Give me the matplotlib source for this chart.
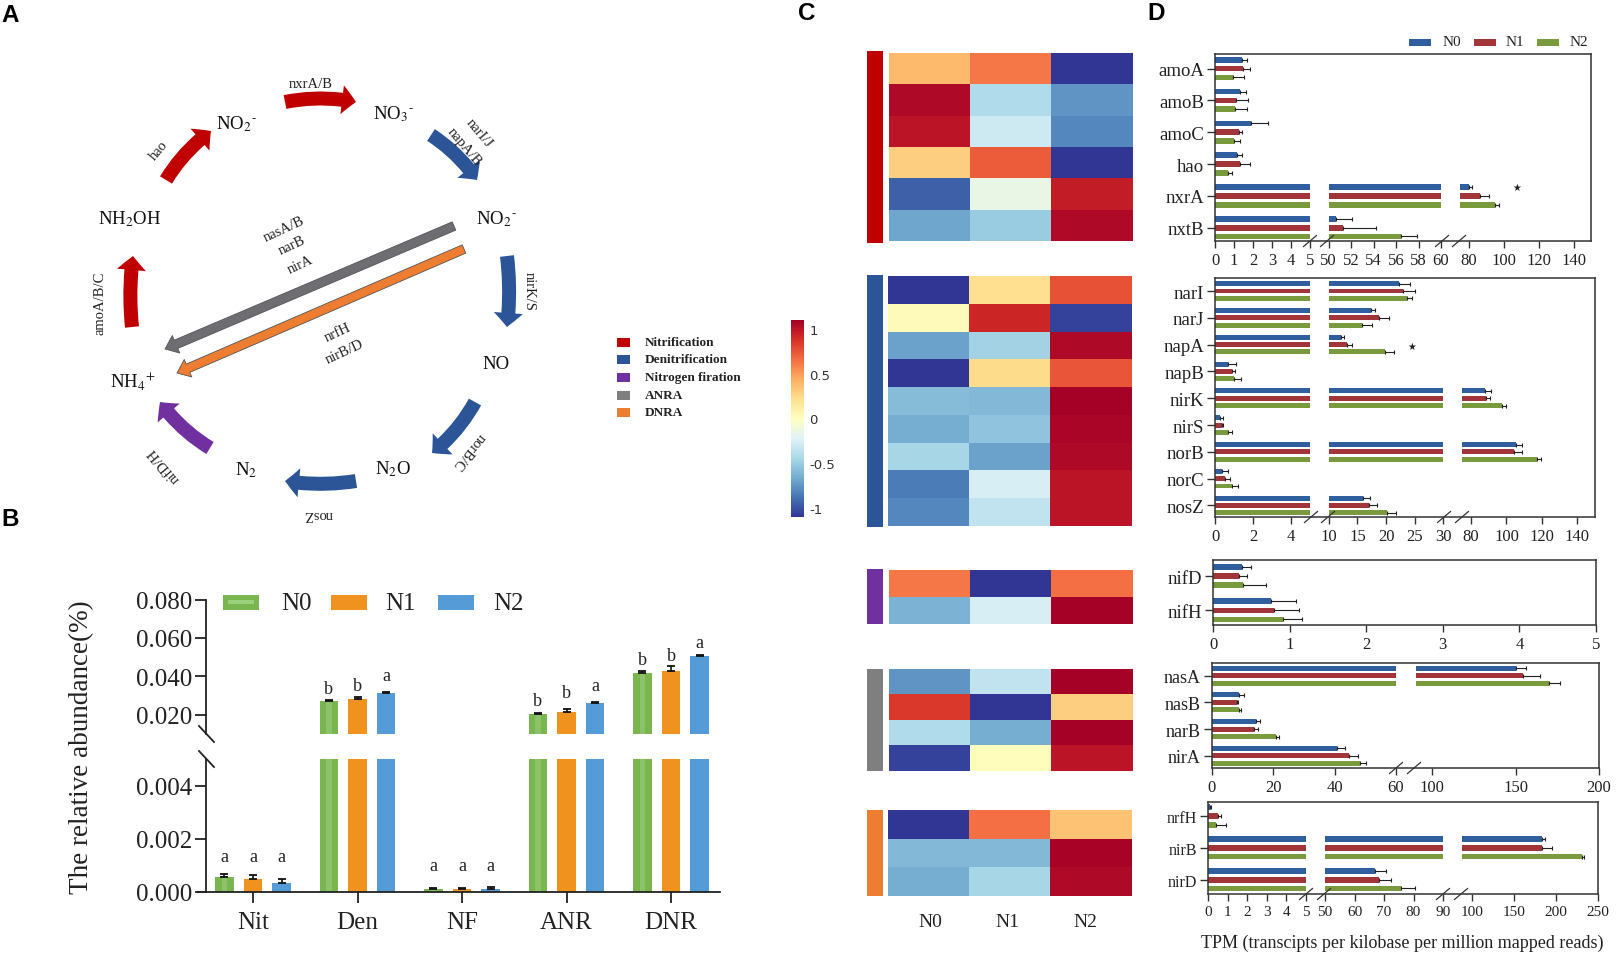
import numpy as np
import matplotlib
matplotlib.use("Agg")
import matplotlib.pyplot as plt
from matplotlib.patches import FancyArrowPatch, Rectangle
from matplotlib.colors import Normalize
from matplotlib.cm import ScalarMappable

W, H = 1621, 962
SERIF = "Liberation Serif"
plt.rcParams["font.family"] = SERIF
plt.rcParams["mathtext.fontset"] = "stix"

# ---------------- Panel B data
b_cats = ["Nit", "Den", "NF", "ANR", "DNR"]
b_n0 = [0.00057, 0.0273, 0.00010, 0.0203, 0.0418]
b_n1 = [0.00050, 0.0282, 0.00010, 0.0215, 0.0428]
b_n2 = [0.00035, 0.0315, 0.00012, 0.0262, 0.0505]
b_n0_err = [0.00012, 0.0005, 0.00005, 0.0005, 0.0012]
b_n1_err = [0.00015, 0.0010, 0.00006, 0.0015, 0.0025]
b_n2_err = [0.00013, 0.0005, 0.00008, 0.0006, 0.0005]
b_letters = [["a", "a", "a"], ["b", "b", "a"], ["a", "a", "a"], ["b", "b", "a"], ["b", "b", "a"]]
b_letter_y = [[0.00132, 0.00132, 0.00132], [0.0335, 0.0355, 0.0402], [0.00098, 0.00098, 0.00098],
              [0.0273, 0.0314, 0.0355], [0.0490, 0.0511, 0.0578]]
b_colors = ["#7ab650", "#f0921e", "#559bd8"]
series = ["N0", "N1", "N2"]

# ---------------- Panel C data
heat_groups = [
    [[0.38, 0.62, -1.15], [1.05, -0.42, -0.75], [1.00, -0.30, -0.80],
     [0.30, 0.72, -1.12], [-0.95, -0.15, 0.97], [-0.68, -0.50, 1.05]],
    [[-1.15, 0.22, 0.75], [0.02, 0.92, -1.05], [-0.70, -0.47, 1.05],
     [-1.12, 0.24, 0.74], [-0.58, -0.60, 1.10], [-0.65, -0.55, 1.07],
     [-0.45, -0.70, 1.05], [-0.85, -0.25, 1.00], [-0.80, -0.35, 1.00]],
    [[0.62, -1.10, 0.65], [-0.62, -0.25, 1.15]],
    [[-0.75, -0.35, 1.13], [0.85, -1.15, 0.30], [-0.42, -0.65, 1.13], [-1.05, 0.01, 1.00]],
    [[-1.15, 0.65, 0.35], [-0.60, -0.60, 1.08], [-0.65, -0.45, 1.05]],
]
heat_spans = [(889, 54, 1132, 242), (888, 277, 1132, 527), (889, 571, 1132, 625),
              (889, 670, 1133, 772), (888, 811, 1132, 897)]
side_spans = [(52, 244), (276, 528), (570, 625), (670, 772), (811, 897)]
path_colors = ["#c00000", "#2b5597", "#7030a0", "#7f7f7f", "#ed7d31"]
path_names = ["Nitrification", "Denitrification", "Nitrogen firation", "ANRA", "DNRA"]

# ---------------- Panel D data (mean, upper error tip)
d1_genes = ["amoA", "amoB", "amoC", "hao", "nxrA", "nxtB"]
d1_mean = [[1.42, 1.47, 0.95], [1.33, 1.10, 1.05], [1.88, 1.27, 1.00],
           [1.15, 1.33, 0.70], [80.4, 86.7, 95.2], [50.65, 51.3, 56.4]]
d1_tip = [[1.70, 1.83, 1.51], [1.63, 1.76, 1.69], [2.78, 1.40, 1.30],
          [1.43, 1.87, 0.88], [82.0, 91.6, 97.3], [52.1, 54.2, 57.9]]
d2_genes = ["narI", "narJ", "napA", "napB", "nirK", "nirS", "norB", "norC", "nosZ"]
d2_mean = [[22.2, 23.0, 23.6], [17.35, 18.75, 15.8], [12.1, 13.2, 19.9], [0.68, 0.90, 1.02],
           [87.7, 88.5, 97.4], [0.28, 0.37, 0.68], [105.5, 104.0, 117.4], [0.38, 0.54, 0.91],
           [15.95, 17.05, 20.1]]
d2_tip = [[24.2, 25.0, 24.6], [18.05, 20.55, 17.6], [12.7, 14.0, 21.3], [1.09, 1.05, 1.35],
          [91.5, 90.8, 100.0], [0.44, 0.40, 0.90], [109.0, 109.0, 119.5], [0.67, 0.79, 1.23],
          [17.2, 18.35, 21.7]]
d3_genes = ["nifD", "nifH"]
d3_mean = [[0.38, 0.34, 0.39], [0.76, 0.79, 0.91]]
d3_tip = [[0.50, 0.44, 0.69], [1.08, 1.12, 1.16]]
d4_genes = ["nasA", "nasB", "narB", "nirA"]
d4_mean = [[150.3, 154.5, 170.3], [8.66, 8.0, 8.77], [14.3, 13.75, 20.8], [40.8, 44.6, 48.4]]
d4_tip = [[156.3, 164.8, 176.5], [10.3, 8.55, 9.6], [15.7, 15.0, 21.75], [43.4, 47.5, 50.3]]
d5_genes = ["nrfH", "nirB", "nirD"]
d5_mean = [[0.08, 0.51, 0.42], [183.0, 183.0, 230.4], [67.0, 68.4, 75.6]]
d5_tip = [[0.15, 0.64, 0.92], [186.5, 195.0, 232.8], [70.6, 72.3, 80.6]]
d_colors = ["#2f5f9e", "#a2353a", "#7a9a3e"]

fig = plt.figure(figsize=(W / 100, H / 100), dpi=100)


def ax_px(x0, y0, x1, y1, **kw):
    return fig.add_axes([x0 / W, 1 - y1 / H, (x1 - x0) / W, (y1 - y0) / H], **kw)


ov = ax_px(0, 0, W, H, zorder=10)
ov.set_xlim(0, W)
ov.set_ylim(H, 0)
ov.axis("off")
ov.patch.set_alpha(0)

for lab, x, y in [("A", 10, 15), ("B", 10, 520), ("C", 807, 14), ("D", 1156, 14)]:
    ov.text(x, y, lab, family="Liberation Sans", weight="bold", fontsize=17.5, ha="center", va="center")

# ---------------- Panel A: cycle diagram
px = 72 / 100
cycle_arrows = [
    ((285, 103), (356, 103), "#c00000", -0.10),
    ((431, 136), (477, 181), "#2b5597", -0.10),
    ((507, 257), (507, 328), "#2b5597", -0.06),
    ((475, 403), (432, 454), "#2b5597", -0.10),
    ((356, 482), (285, 482), "#2b5597", -0.08),
    ((210, 449), (160, 403), "#7030a0", -0.10),
    ((132, 328), (133, 257), "#c00000", -0.06),
    ((166, 181), (211, 132), "#c00000", -0.10),
]
for a, b, c, rad in cycle_arrows:
    st = f"simple,head_length={14*px:.2f},head_width={29*px:.2f},tail_width={14*px:.2f}"
    ov.add_patch(FancyArrowPatch(a, b, arrowstyle=st, mutation_scale=1, color=c, lw=0,
                                 connectionstyle=f"arc3,rad={rad}", shrinkA=0, shrinkB=0))
for a, b, c in [((454, 227), (165, 350), "#6e6e72"), ((464, 250), (177, 374), "#ed7d31")]:
    st = f"simple,head_length={12*px:.2f},head_width={19*px:.2f},tail_width={9*px:.2f}"
    ov.add_patch(FancyArrowPatch(a, b, arrowstyle=st, mutation_scale=1, facecolor=c,
                                 edgecolor="#555555", lw=0.6, shrinkA=0, shrinkB=0))

HY = "$^{\u2010}$"
compounds = [("NO$_2$" + HY, 236, 124), ("NO$_3$" + HY, 393, 114), ("NO$_2$" + HY, 496, 219),
             ("NO", 496, 365), ("N$_2$O", 393, 469), ("N$_2$", 246, 470),
             ("NH$_4$$^{+}$", 133, 382), ("NH$_2$OH", 130, 219)]
for t, x, y in compounds:
    ov.text(x, y, t, fontsize=13.5, ha="center", va="center", color="#111111")
genes_a = [("nxrA/B", 311, 85, 0), ("hao", 159, 151, 50), ("narI/J", 479, 133, -50),
           ("napA/B", 464, 147, -50), ("nirK/S", 529, 292, -90), ("norB/C", 469, 452, 230),
           ("nosZ", 318, 515, 180), ("nifD/H", 164, 465, 130), ("amoA/B/C", 100, 303, 90),
           ("nasA/B", 284, 230, 25), ("narB", 292, 246, 25), ("nirA", 300, 265, 25),
           ("nrfH", 338, 333, 25), ("nirB/D", 345, 352, 25)]
for t, x, y, r in genes_a:
    ov.text(x, y, t, fontsize=10.5, rotation=r, ha="center", va="center", color="#222222")
for name, c, y in zip(path_names, path_colors, [343, 360.5, 378, 396.5, 413.5]):
    ov.add_patch(Rectangle((617, y - 4.5), 13, 9, color=c, lw=0))
    ov.text(645, y, name, fontsize=9.5, weight="bold", va="center", ha="left", color="#222222")

# ---------------- Panel B: broken-axis bars
x0b, x1b, spacing = 206, 720, 104.5
tick0 = 253
xlim_b = ((x0b - tick0) / spacing, (x1b - tick0) / spacing)
ax_up = ax_px(x0b, 600.5, x1b, 735)
ax_lo = ax_px(x0b, 760, x1b, 893)
idx = np.arange(len(b_cats))
off, bw = 28.7 / spacing, 18.5 / spacing
vals = [b_n0, b_n1, b_n2]
errs = [b_n0_err, b_n1_err, b_n2_err]
for axx in (ax_up, ax_lo):
    for i in range(3):
        pos = idx + (i - 1) * off
        axx.bar(pos, vals[i], bw, color=b_colors[i], lw=0)
        axx.errorbar(pos, vals[i], yerr=[np.zeros(5), errs[i]], fmt="none", ecolor="#111111",
                     elinewidth=1.2, capsize=3.2, capthick=1.3)
        if i == 0:
            axx.bar(pos, vals[i], bw * 0.3, color="#9ccf7c", lw=0, alpha=0.55)
    axx.set_xlim(*xlim_b)
    axx.patch.set_alpha(0)
    for s in ("top", "right"):
        axx.spines[s].set_visible(False)
    axx.spines["left"].set_linewidth(1.3)
    axx.spines["left"].set_color("#222222")
    axx.tick_params(axis="y", length=8, width=1.3, labelsize=18, pad=2, color="#222222", labelcolor="#222222")
ax_up.set_ylim(0.010, 0.080)
ax_up.set_yticks([0.020, 0.040, 0.060, 0.080], ["0.020", "0.040", "0.060", "0.080"])
ax_up.spines["bottom"].set_visible(False)
ax_up.set_xticks([])
ax_lo.set_ylim(0, 0.005)
ax_lo.set_yticks([0, 0.002, 0.004], ["0.000", "0.002", "0.004"])
ax_lo.set_xticks(idx, b_cats)
ax_lo.spines["bottom"].set_linewidth(1.3)
ax_lo.spines["bottom"].set_color("#222222")
ax_lo.tick_params(axis="x", length=8, width=1.3, labelsize=18, pad=6, color="#222222", labelcolor="#222222")
ov.plot([198, 206], [893, 893], color="#222222", lw=1.3)
for g in range(5):
    for i in range(3):
        axx = ax_up if b_letter_y[g][i] > 0.01 else ax_lo
        axx.text(idx[g] + (i - 1) * off, b_letter_y[g][i], b_letters[g][i], fontsize=13,
                 ha="center", va="center", color="#222222")
for yc in (735, 760):
    ov.plot([199, 214], [yc - 8, yc + 8], color="#222222", lw=1.3)
ov.text(82, 747, "The relative abundance(%)", rotation=90, fontsize=19.5, ha="center", va="center", color="#222222")
for name, c, xp, xt in zip(series, b_colors, [223, 331, 438], [296, 400, 508]):
    ov.add_patch(Rectangle((xp, 596), 36, 15, color=c, lw=0))
    ov.text(xt, 604, name, fontsize=18, ha="center", va="center", color="#222222")
ov.add_patch(Rectangle((228, 601), 26, 4, color="#9ccf7c", lw=0))

# ---------------- Panel C: heatmaps
norm = Normalize(-1.1, 1.1)
cmap = "RdYlBu_r"
for data, span, side, c in zip(heat_groups, heat_spans, side_spans, path_colors):
    axh = ax_px(*span)
    axh.imshow(np.array(data), cmap=cmap, norm=norm, aspect="auto", interpolation="nearest")
    axh.axis("off")
    ov.add_patch(Rectangle((867, side[0]), 16, side[1] - side[0], color=c, lw=0))
for t, x in zip(series, [930, 1007, 1085]):
    ov.text(x, 923, t, fontsize=14, ha="center", va="center", color="#222222")
cax = ax_px(791, 321, 804, 518)
cb = fig.colorbar(ScalarMappable(norm=norm, cmap=cmap), cax=cax)
cb.outline.set_visible(False)
cb.set_ticks([-1, -0.5, 0, 0.5, 1], labels=["-1", "-0.5", "0", "0.5", "1"])
cb.ax.tick_params(length=0, pad=4, labelsize=9.5, labelcolor="#333333")
for l in cb.ax.get_yticklabels():
    l.set_family("DejaVu Sans")


# ---------------- Panel D: horizontal bars with a piecewise x scale
def gene_panel(box, genes, mean, tip, knots_v, knots_p, segs, ticks, ylim, off_r, h_r, fs=13.5, tfs=12):
    ax = ax_px(*box)
    kv, kp = np.array(knots_v, float), np.array(knots_p, float)
    ax.set_xscale("function", functions=(lambda v: np.interp(v, kv, kp), lambda p: np.interp(p, kp, kv)))
    for g in range(len(genes)):
        for i in range(3):
            y = g + (i - 1) * off_r
            m, t = mean[g][i], tip[g][i]
            for lo, hi in segs:
                if m > lo:
                    ax.barh(y, min(m, hi) - lo, h_r, left=lo, color=d_colors[i], lw=0)
            ax.errorbar([m], [y], xerr=[[0], [t - m]], fmt="none", ecolor="#222222",
                        elinewidth=0.8, capsize=1.5, capthick=0.8)
    ax.set_xlim(kv[0], kv[-1])
    ax.set_ylim(ylim[1], ylim[0])
    ax.set_yticks(range(len(genes)), genes)
    ax.set_xticks(ticks, [str(v) for v in ticks])
    ax.tick_params(axis="y", length=6, width=1, labelsize=fs, pad=2, color="#333333", labelcolor="#222222")
    ax.tick_params(axis="x", length=5, width=1, labelsize=tfs, pad=3, color="#333333", labelcolor="#222222")
    ax.minorticks_off()
    for s in ax.spines.values():
        s.set_linewidth(1.1)
        s.set_color("#333333")
    return ax


def slashes(xs, y):
    for x in xs:
        ov.plot([x - 6.5, x + 6.5], [y + 5.5, y - 5.5], color="#333333", lw=0.9)


gene_panel((1215, 55, 1591, 242), d1_genes, d1_mean, d1_tip,
           [0, 5, 50, 60, 75, 80, 150],
           [0, 94.7, 113.7, 226, 244.7, 253.7, 376],
           [(0, 5), (50, 60), (75, 150)],
           [0, 1, 2, 3, 4, 5, 50, 52, 54, 56, 58, 60, 80, 100, 120, 140],
           (-0.46, 5.42), 0.277, 0.18)
slashes([1310, 1327, 1442, 1459], 242)
gene_panel((1215, 279, 1595, 518), d2_genes, d2_mean, d2_tip,
           [0, 5, 10, 30, 75, 80, 150],
           [0, 95, 114, 229, 248, 256.7, 381],
           [(0, 5), (10, 30), (75, 150)],
           [0, 2, 4, 10, 15, 20, 25, 30, 80, 100, 120, 140],
           (-0.485, 8.43), 0.274, 0.185)
slashes([1311, 1328, 1444, 1462], 518)
gene_panel((1213, 561, 1596, 626), d3_genes, d3_mean, d3_tip,
           [0, 5], [0, 383], [(0, 5)], [0, 1, 2, 3, 4, 5], (-0.47, 1.43), 0.265, 0.16)
gene_panel((1212, 664, 1599, 769), d4_genes, d4_mean, d4_tip,
           [0, 60, 90.5, 100, 200], [0, 184, 204, 220, 387],
           [(0, 60), (90.5, 200)], [0, 20, 40, 60, 100, 150, 200],
           (-0.475, 3.46), 0.285, 0.185, fs=13)
slashes([1396, 1414], 769)
gene_panel((1208, 803, 1598, 895), d5_genes, d5_mean, d5_tip,
           [0, 5, 50, 90, 91, 100, 250], [0, 97.7, 117, 235, 254, 264, 390],
           [(0, 5), (50, 90), (91, 250)],
           [0, 1, 2, 3, 4, 5, 50, 60, 70, 80, 90, 100, 150, 200, 250],
           (-0.44, 2.45), 0.275, 0.18, fs=11.5, tfs=11)
slashes([1306, 1324, 1443, 1461], 895)

ov.text(1517, 188, "★", family="DejaVu Sans", fontsize=7, ha="center", va="center", color="#222222")
ov.text(1412, 347, "★", family="DejaVu Sans", fontsize=7, ha="center", va="center", color="#222222")
for name, c, xp, xt in zip(series, d_colors, [1409, 1474, 1537], [1452, 1515, 1579]):
    ov.add_patch(Rectangle((xp, 39.5), 22, 7.5, color=c, lw=0))
    ov.text(xt, 43, name, fontsize=11, ha="center", va="center", color="#222222")
ov.text(1402, 943, "TPM (transcipts per kilobase per million mapped reads)", fontsize=13,
        ha="center", va="center", color="#222222")

fig.savefig("out.png", dpi=100)
